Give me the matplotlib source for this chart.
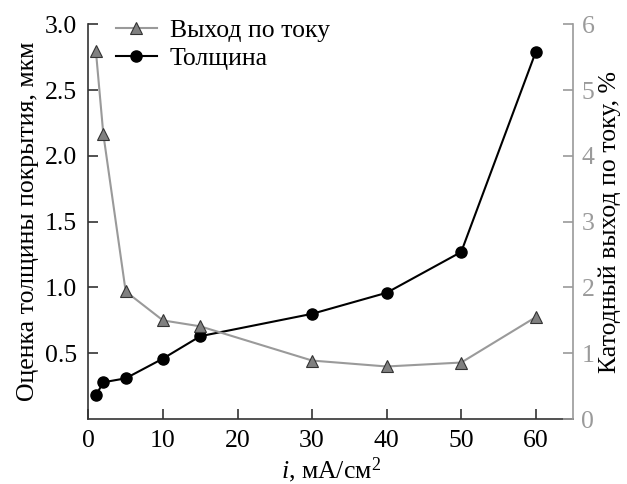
import numpy as np
import matplotlib.pyplot as plt

plt.rcParams['font.family'] = ['Liberation Serif', 'DejaVu Serif']
plt.rcParams['mathtext.fontset'] = 'custom'
plt.rcParams['mathtext.it'] = 'Liberation Serif:italic'
plt.rcParams['mathtext.rm'] = 'Liberation Serif'

# current density, mA/cm2
current = [1, 2, 5, 10, 15, 30, 40, 50, 60]
# coating thickness estimate, um (left axis)
thickness = [0.18, 0.28, 0.31, 0.46, 0.63, 0.80, 0.96, 1.27, 2.79]
# cathode current efficiency, % (right axis)
efficiency = [5.6, 4.33, 1.94, 1.5, 1.41, 0.89, 0.80, 0.86, 1.55]

xticks = [0, 10, 20, 30, 40, 50, 60]
left_ticks = [0.5, 1.0, 1.5, 2.0, 2.5, 3.0]
right_ticks = [0, 1, 2, 3, 4, 5, 6]

gray = '#9a9a9a'
fs = 18.5

fig = plt.figure(figsize=(6.27, 4.84), dpi=100)
ax = fig.add_axes([0.141, 0.134, 0.773, 0.816])
ax2 = ax.twinx()

l1, = ax2.plot(current, efficiency, color=gray, lw=1.5, marker='^', ms=8,
               mfc='#808080', mec='#333333', mew=0.8, label='Выход по току')
l2, = ax.plot(current, thickness, color='black', lw=1.5, marker='o', ms=8,
              label='Толщина')

ax.set_xlim(0, 65)
ax.set_ylim(0, 3.0)
ax2.set_ylim(0, 6)
ax.set_xticks(xticks)
ax.set_yticks(left_ticks)
ax.set_yticklabels([f'{v:.1f}' for v in left_ticks])
ax2.set_yticks(right_ticks)

for a in (ax, ax2):
    a.spines['top'].set_visible(False)
ax.spines['right'].set_visible(False)
ax2.spines['left'].set_visible(False)
ax2.spines['bottom'].set_visible(False)
ax2.spines['right'].set_color(gray)
ax.spines['left'].set_color('#333333')
ax.spines['bottom'].set_color('#333333')
for s in ('left', 'bottom'):
    ax.spines[s].set_linewidth(1.2)
ax2.spines['right'].set_linewidth(1.2)

ax.tick_params(direction='in', length=7, width=1.2, labelsize=fs, color='#333333', pad=8)
ax2.tick_params(direction='in', length=7, width=1.2, labelsize=fs, colors=gray, pad=6)

ax.set_xlabel('$i$, мА/см$^2$', fontsize=fs, labelpad=2)
ax.set_ylabel('Оценка толщины покрытия, мкм', fontsize=fs, labelpad=4)
ax2.set_ylabel('Катодный выход по току, %', fontsize=fs, labelpad=3)

ax.legend([l1, l2], ['Выход по току', 'Толщина'], loc='upper left',
          bbox_to_anchor=(0.035, 1.04), frameon=False, fontsize=fs,
          handlelength=1.6, handletextpad=0.5, borderaxespad=0, labelspacing=0.2)

fig.savefig('out.png', dpi=100)
